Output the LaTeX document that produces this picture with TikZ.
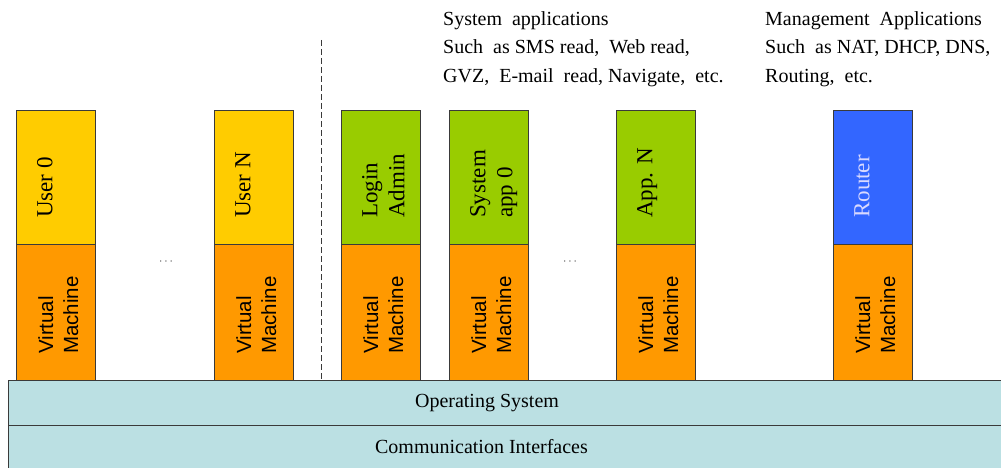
\documentclass[tikz,border=0pt]{standalone}
\usepackage{fontspec}
\setmainfont{Liberation Serif}
\newfontfamily\arialf{Liberation Sans}
\definecolor{uyel}{HTML}{FFCC00}
\definecolor{vmor}{HTML}{FF9900}
\definecolor{apgr}{HTML}{99CC00}
\definecolor{rtbl}{HTML}{3366FF}
\definecolor{layer}{HTML}{BBE0E3}
\definecolor{edge}{HTML}{3A3A3A}
\begin{document}
\begin{tikzpicture}[x=1pt,y=-1pt,
  topbox/.style={draw=edge, line width=0.9pt, anchor=north west, minimum width=79pt, minimum height=134pt, inner sep=0pt},
  vmbox/.style={draw=edge, line width=0.9pt, fill=vmor, anchor=north west, minimum width=79pt, minimum height=136pt, inner sep=0pt},
  toptext/.style={rotate=90, anchor=north west, inner sep=0pt, align=left, font=\fontsize{23}{27}\selectfont},
  vmtext/.style={rotate=90, anchor=north west, inner sep=0pt, align=left, font=\arialf\fontsize{20.5}{25}\selectfont},
  layerbox/.style={draw=edge, line width=0.9pt, fill=layer, anchor=north west, inner sep=0pt},
  layertext/.style={font=\fontsize{20}{20}\selectfont, inner sep=0pt},
  caption/.style={anchor=north west, align=left, inner sep=0pt, font=\fontsize{20}{28.5}\selectfont},
  dots/.style={font=\fontsize{13}{13}\selectfont, inner sep=0pt, text=edge}]
\useasboundingbox (0,0) rectangle (1001,468);
% layers
\node[layerbox, minimum width=1000pt, minimum height=45pt] (os) at (8,380) {};
\node[layerbox, minimum width=1000pt, minimum height=43pt] (ci) at (8,425) {};
\node[layertext] (ost) at (487,403) {Operating System};
\node[layertext] (cit) at (481.5,447) {Communication Interfaces};
% column 1
\node[topbox, fill=uyel] (u0) at (16,110) {};
\node[vmbox] (vm0) at (16,244) {};
\node[toptext] (u0t) at (37,218) {User 0};
\node[vmtext] (vm0t) at (38,354) {Virtual\\Machine};
% column 2
\node[topbox, fill=uyel] (un) at (214,110) {};
\node[vmbox] (vmn) at (214,244) {};
\node[toptext] (unt) at (235,218) {User N};
\node[vmtext] (vmnt) at (236,354) {Virtual\\Machine};
% column 3
\node[topbox, fill=apgr] (la) at (341,110) {};
\node[vmbox] (vmla) at (341,244) {};
\node[toptext] (lat) at (362,218) {Login\\Admin};
\node[vmtext] (vmlat) at (363,354) {Virtual\\Machine};
% column 4
\node[topbox, fill=apgr] (sa) at (449,110) {};
\node[vmbox] (vmsa) at (449,244) {};
\node[toptext] (sat) at (470,218) {System\\app 0};
\node[vmtext] (vmsat) at (471,354) {Virtual\\Machine};
% column 5
\node[topbox, fill=apgr] (an) at (616,110) {};
\node[vmbox] (vman) at (616,244) {};
\node[toptext] (ant) at (637,218) {App. N};
\node[vmtext] (vmant) at (638,354) {Virtual\\Machine};
% column 6
\node[topbox, fill=rtbl] (rt) at (833,110) {};
\node[vmbox] (vmrt) at (833,244) {};
\node[toptext, text=white!85!blue] (rtt) at (854,218) {Router};
\node[vmtext] (vmrtt) at (855,354) {Virtual\\Machine};
% dots
\node[dots] (d1) at (166,262) {$\cdots$};
\node[dots] (d2) at (570,262) {$\cdots$};
% dashed separator
\coordinate (sepTop) at (321,40);
\coordinate (sepBot) at (321,380);
\draw[edge, dash pattern=on 6pt off 3pt, line width=0.9pt] (sepTop) -- (sepBot);
% captions
\node[caption] (sysapp) at (443,11) {System\ \ applications\\Such\ \ as SMS read,\ \ Web read,\\GVZ,\ \ E-mail\ \ read, Navigate,\ \ etc.};
\node[caption] (mgmt) at (765,11) {Management\ \ Applications\\Such\ \ as NAT, DHCP, DNS,\\Routing,\ \ etc.};
\end{tikzpicture}
\end{document}
